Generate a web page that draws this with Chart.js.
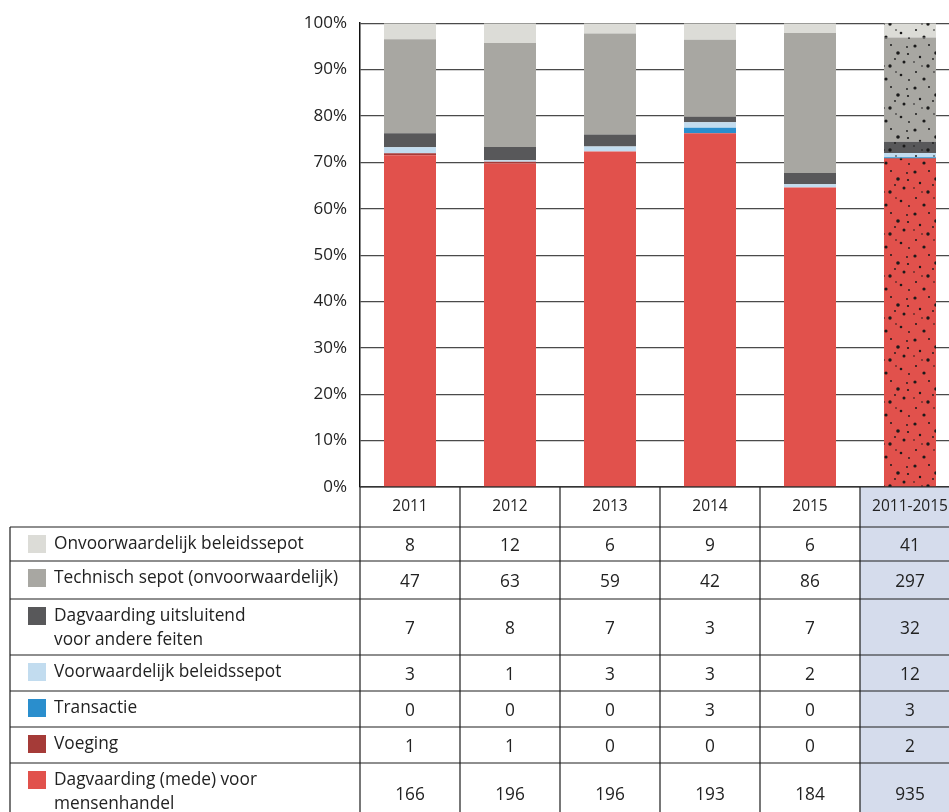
<!DOCTYPE html>
<html>
<head>
<meta charset="utf-8">
<script src="https://cdn.jsdelivr.net/npm/chart.js@4/dist/chart.umd.min.js"></script>
<style>
  html, body { margin: 0; padding: 0; background: #fff; overflow: hidden; }
  #wrap { width: 960px; height: 812px; position: relative; }
</style>
</head>
<body>
<div id="wrap"><canvas id="chart"></canvas></div>
<script>
// categories
const years = ['2011', '2012', '2013', '2014', '2015', '2011-2015'];

// counts per category
const onvoorwaardelijk = [8, 12, 6, 9, 6, 41];
const technisch = [47, 63, 59, 42, 86, 297];
const dagvaardingAndere = [7, 8, 7, 3, 7, 32];
const voorwaardelijk = [3, 1, 3, 3, 2, 12];
const transactie = [0, 0, 0, 3, 0, 3];
const voeging = [1, 1, 0, 0, 0, 2];
const dagvaardingMH = [166, 196, 196, 193, 184, 935];

const yTicks = [0, 10, 20, 30, 40, 50, 60, 70, 80, 90, 100];

// series from bottom of the stack to the top
const series = [
  { label: ['Dagvaarding (mede) voor', 'mensenhandel'], data: dagvaardingMH, color: '#e1514c' },
  { label: ['Voeging'], data: voeging, color: '#a53b38' },
  { label: ['Transactie'], data: transactie, color: '#2a8ecd' },
  { label: ['Voorwaardelijk beleidssepot'], data: voorwaardelijk, color: '#c2dcef' },
  { label: ['Dagvaarding uitsluitend', 'voor andere feiten'], data: dagvaardingAndere, color: '#58585a' },
  { label: ['Technisch sepot (onvoorwaardelijk)'], data: technisch, color: '#a8a7a2' },
  { label: ['Onvoorwaardelijk beleidssepot'], data: onvoorwaardelijk, color: '#dcdcd7' }
];

const totals = years.map((_, i) => series.reduce((s, d) => s + d.data[i], 0));

// speckled texture for the combined 2011-2015 bar
const dots = [[3,4,1.6],[17,3,1.0],[24,11,1.8],[8,15,1.2],[30,20,1.5],[16,24,1.7],[4,30,1.0],
  [27,33,1.3],[12,37,1.6],[33,5,0.9],[21,17,0.9],[35,38,0.9],[10,24,0.8],[22,30,0.8],[34,12,1.1],[2,20,0.8]];
function speckle(color) {
  const c = document.createElement('canvas');
  c.width = 38; c.height = 42;
  const g = c.getContext('2d');
  g.fillStyle = color;
  g.fillRect(0, 0, c.width, c.height);
  g.fillStyle = '#1a1a1a';
  dots.forEach(([x, y, r]) => { g.beginPath(); g.arc(x, y, r, 0, Math.PI * 2); g.fill(); });
  return g.createPattern(c, 'repeat');
}

const FONT = '"Open Sans", Lato, sans-serif';
const rowHeights = [34, 38, 56, 36, 36, 36, 60];

const tablePlugin = {
  id: 'table',
  afterDraw(chart) {
    const ctx = chart.ctx;
    const x = chart.scales.x;
    const area = chart.chartArea;
    const colW = x.getPixelForValue(1) - x.getPixelForValue(0);
    const left = area.left;
    const right = x.getPixelForValue(years.length - 1) + colW / 2;
    const headTop = area.bottom;
    const headBottom = headTop + 40;
    const tableLeft = 10;
    const bottom = chart.height + 20;

    ctx.save();
    // shaded total column
    const lastL = x.getPixelForValue(years.length - 1) - colW / 2;
    ctx.fillStyle = '#d5dcec';
    ctx.fillRect(lastL, headTop, right - lastL, bottom - headTop);

    ctx.strokeStyle = '#1e1e1e';
    ctx.lineWidth = 1.2;
    ctx.beginPath();
    ctx.moveTo(left, headTop); ctx.lineTo(right, headTop);
    for (let i = 0; i < years.length; i++) {
      const cl = x.getPixelForValue(i) - colW / 2;
      ctx.moveTo(cl, headTop); ctx.lineTo(cl, bottom);
    }
    ctx.moveTo(tableLeft, headBottom); ctx.lineTo(tableLeft, bottom);
    ctx.stroke();

    ctx.fillStyle = '#222';
    ctx.textAlign = 'center';
    ctx.textBaseline = 'middle';
    ctx.font = '15.5px ' + FONT;
    years.forEach((y, i) => ctx.fillText(y, x.getPixelForValue(i), (headTop + headBottom) / 2));

    // rows from top of the stack to the bottom
    const rows = series.slice().reverse();
    let top = headBottom;
    rows.forEach((s, r) => {
      const h = rowHeights[r];
      ctx.beginPath();
      ctx.moveTo(tableLeft, top); ctx.lineTo(right, top);
      ctx.stroke();
      ctx.fillStyle = s.color;
      ctx.fillRect(28, top + 8, 18, 18);
      ctx.fillStyle = '#222';
      ctx.font = '17.3px ' + FONT;
      ctx.textAlign = 'left';
      s.label.forEach((line, k) => ctx.fillText(line, 54, top + 17 + k * 24));
      ctx.textAlign = 'center';
      s.data.forEach((v, i) => ctx.fillText(String(v), x.getPixelForValue(i), top + h / 2 + 2));
      top += h;
    });
    ctx.restore();
  }
};

new Chart(document.getElementById('chart'), {
  type: 'bar',
  data: {
    labels: years,
    datasets: series.map(s => ({
      label: s.label.join(' '),
      data: s.data.map((v, i) => v / totals[i] * 100),
      backgroundColor: ctx => ctx.dataIndex === years.length - 1 ? speckle(s.color) : s.color,
      borderWidth: 0,
      barPercentage: 0.52,
      categoryPercentage: 1
    }))
  },
  options: {
    responsive: true,
    maintainAspectRatio: false,
    animation: false,
    layout: { padding: { top: 23, bottom: 325, left: 0, right: 0 } },
    plugins: { legend: { display: false }, tooltip: { enabled: false } },
    scales: {
      x: { stacked: true, display: false },
      y: {
        stacked: true,
        min: 0,
        max: 100,
        afterFit: scale => { scale.width = 360; },
        afterBuildTicks: scale => { scale.ticks = yTicks.map(v => ({ value: v })); },
        ticks: {
          padding: 13,
          color: '#222',
          font: { family: FONT, size: 17 },
          callback: v => v + '%'
        },
        grid: { color: '#4a4a4a', lineWidth: 1.2, drawTicks: false },
        border: { display: true, color: '#111', width: 1.5 }
      }
    }
  },
  plugins: [tablePlugin]
});
</script>
</body>
</html>
